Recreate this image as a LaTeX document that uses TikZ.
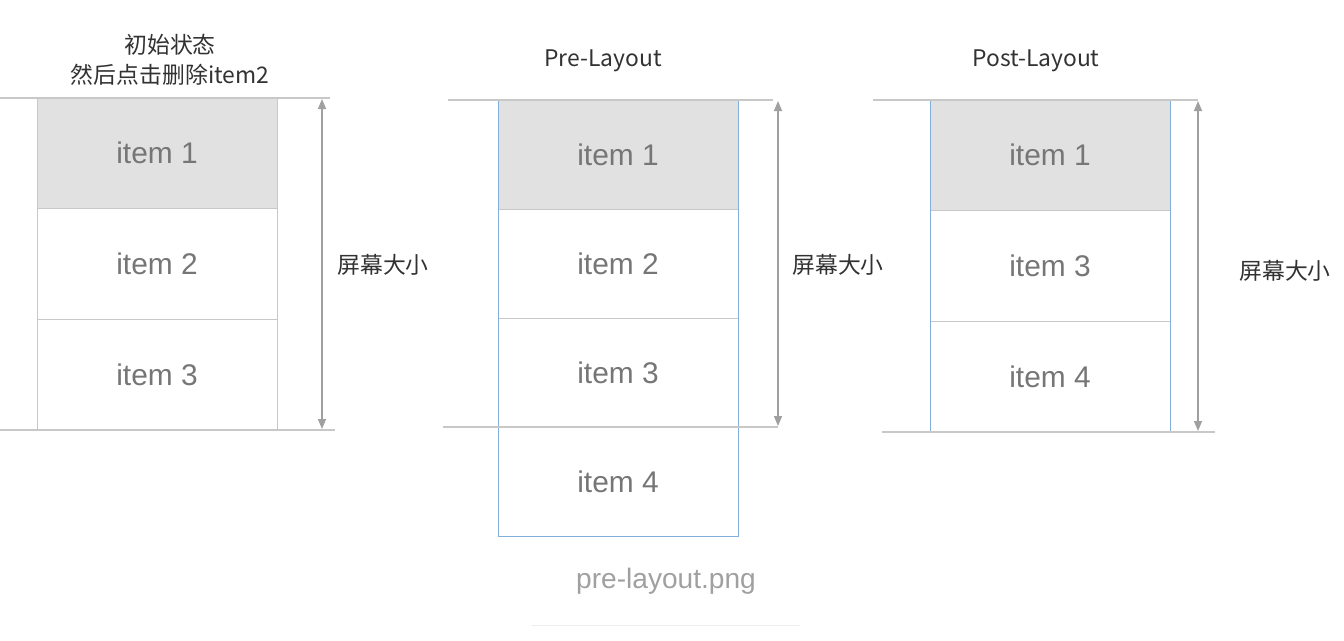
\documentclass[tikz,border=0pt]{standalone}
\usepackage{fontspec}
\setmainfont{Liberation Sans}
\newfontfamily\cjk{Noto Sans CJK SC}
\usetikzlibrary{positioning,arrows.meta}
\definecolor{rowline}{RGB}{200,200,200}
\definecolor{rowfill}{RGB}{225,225,225}
\definecolor{itemtext}{RGB}{118,118,118}
\definecolor{selblue}{RGB}{130,175,220}
\definecolor{guidegray}{RGB}{200,200,200}
\definecolor{arrowgray}{RGB}{160,160,160}
\definecolor{titletext}{RGB}{50,50,50}
\tikzstyle{itemrow} = [draw=rowline, minimum width=4.8cm, minimum height=2.213cm, inner sep=0pt, outer sep=0pt, text=itemtext, font=\fontsize{17}{20}\selectfont]
\tikzstyle{headrow} = [itemrow, fill=rowfill]
\tikzstyle{guide} = [draw=guidegray, line width=0.8pt]
\tikzstyle{screenarrow} = [draw=arrowgray, line width=0.8pt, {Triangle[length=0.2cm,width=0.16cm]}-{Triangle[length=0.2cm,width=0.16cm]}]
\tikzstyle{title} = [text=titletext, font=\cjk\fontsize{13}{17}\selectfont, align=center]

\begin{document}
\begin{tikzpicture}[x=0.02cm, y=-0.02cm]
                    \useasboundingbox (0,0) rectangle (1344,640);

                    % initial state
                    \node[headrow] (a1) at (157,153.3) {item 1};
                    \node[itemrow, below=0pt of a1] (a2) {item 2};
                    \node[itemrow, below=0pt of a2] (a3) {item 3};
                    \node[title] (ta) at (170,60) {初始状态\\然后点击删除item2};
                    \coordinate (a-tl) at (0,98);   \coordinate (a-tr) at (330,98);
                    \coordinate (a-bl) at (0,430);  \coordinate (a-br) at (335,430);
                    \draw[guide] (a-tl) -- (a-tr);
                    \draw[guide] (a-bl) -- (a-br);
                    \coordinate (a-up) at (322,99); \coordinate (a-dn) at (322,429);
                    \draw[screenarrow] (a-up) -- (a-dn);
                    \node[title] (la) at (383,265) {屏幕大小};

                    % pre-layout
                    \node[headrow, minimum height=2.18cm] (b1) at (618,154.5) {item 1};
                    \node[itemrow, minimum height=2.18cm, below=0pt of b1] (b2) {item 2};
                    \node[itemrow, minimum height=2.18cm, below=0pt of b2] (b3) {item 3};
                    \node[itemrow, minimum height=2.18cm, below=0pt of b3] (b4) {item 4};
                    \draw[selblue] (b1.north west) rectangle (b4.south east);
                    \node[title] (tb) at (603,61) {Pre-Layout};
                    \coordinate (b-tl) at (448,100); \coordinate (b-tr) at (773,100);
                    \coordinate (b-bl) at (443,427); \coordinate (b-br) at (778,427);
                    \draw[guide] (b-tl) -- (b-tr);
                    \draw[guide] (b-bl) -- (b-br);
                    \coordinate (b-up) at (778,101); \coordinate (b-dn) at (778,426);
                    \draw[screenarrow] (b-up) -- (b-dn);
                    \node[title] (lb) at (838,265) {屏幕大小};

                    % post-layout
                    \node[headrow] (c1) at (1050,155.3) {item 1};
                    \node[itemrow, below=0pt of c1] (c3) {item 3};
                    \node[itemrow, below=0pt of c3] (c4) {item 4};
                    \draw[selblue] (c1.north west) rectangle (c4.south east);
                    \node[title] (tc) at (1036,61) {Post-Layout};
                    \coordinate (c-tl) at (873,100); \coordinate (c-tr) at (1198,100);
                    \coordinate (c-bl) at (882,432); \coordinate (c-br) at (1215,432);
                    \draw[guide] (c-tl) -- (c-tr);
                    \draw[guide] (c-bl) -- (c-br);
                    \coordinate (c-up) at (1198,101); \coordinate (c-dn) at (1198,431);
                    \draw[screenarrow] (c-up) -- (c-dn);
                    \node[title] (lc) at (1285,271) {屏幕大小};

                    % caption
                    \node[text=arrowgray, font=\fontsize{16}{19}\selectfont] (cap) at (666,581) {pre-layout.png};
                    \coordinate (cap-l) at (532,625); \coordinate (cap-r) at (800,625);
                    \draw[draw=rowfill!60] (cap-l) -- (cap-r);

                \end{tikzpicture}
\end{document}
